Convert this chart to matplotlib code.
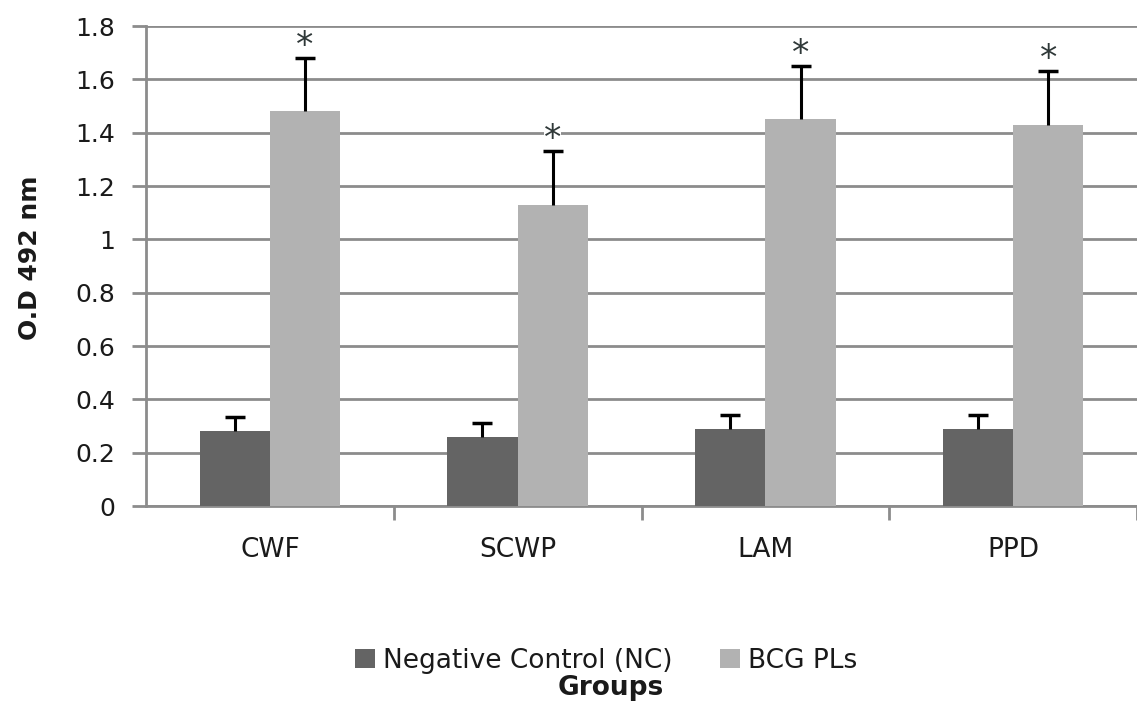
import numpy as np
import matplotlib.pyplot as plt

plt.rcParams['font.family'] = ['DejaVu Sans']
plt.rcParams['text.color'] = '#1a1a1a'
plt.rcParams['xtick.labelcolor'] = '#1a1a1a'
plt.rcParams['ytick.labelcolor'] = '#1a1a1a'

groups = ['CWF', 'SCWP', 'LAM', 'PPD']
nc_vals = [0.28, 0.26, 0.29, 0.29]
nc_err = [0.055, 0.05, 0.05, 0.05]
bcg_vals = [1.48, 1.13, 1.45, 1.43]
bcg_err = [0.20, 0.20, 0.20, 0.20]
yticks = [0, 0.2, 0.4, 0.6, 0.8, 1, 1.2, 1.4, 1.6, 1.8]
ytick_labels = ['0', '0.2', '0.4', '0.6', '0.8', '1', '1.2', '1.4', '1.6', '1.8']

fig = plt.figure(figsize=(11.37, 7.02), dpi=100)
ax = fig.add_axes([146 / 1137, 196 / 702, 991 / 1137, 480 / 702])

x = np.arange(len(groups))
w = 0.284
grid_col = '#8c8c8c'

ax.bar(x - w / 2, nc_vals, w, color='#646464', label='Negative Control (NC)', zorder=3)
ax.bar(x + w / 2, bcg_vals, w, color='#b2b2b2', label='BCG PLs', zorder=3)

# upper error bars only, cap at the top
for xs, vals, errs in [(x - w / 2, nc_vals, nc_err), (x + w / 2, bcg_vals, bcg_err)]:
    tops = np.array(vals) + np.array(errs)
    ax.vlines(xs, vals, tops, color='black', linewidth=2.2, zorder=4)
    ax.plot(xs, tops, linestyle='none', marker='_', markersize=15, mew=2.5,
            color='black', zorder=4)

# significance stars (white box breaks the gridline behind them)
for xi, v, e in zip(x, bcg_vals, bcg_err):
    ax.text(xi + w / 2, v + e + 0.008, '*', ha='center', va='baseline', fontsize=25,
            color='#2f3838', zorder=3.5,
            bbox=dict(facecolor='white', edgecolor='none', pad=0.0))

ax.set_ylim(0, 1.8)
ax.set_xlim(-0.5, 3.5 - 9 / 250)
ax.set_yticks(yticks)
ax.set_yticklabels(ytick_labels)
ax.yaxis.grid(True, color=grid_col, linewidth=2)
ax.set_axisbelow(True)

ax.set_xticks(x)
ax.set_xticklabels(groups)
ax.set_xticks(np.arange(len(groups)) + 0.5, minor=True)
ax.tick_params(axis='x', which='major', length=0, pad=22, labelsize=19)
ax.tick_params(axis='x', which='minor', length=10, width=2, color=grid_col)
ax.tick_params(axis='y', length=10, width=2, color=grid_col, labelsize=18, pad=12)

for side in ['top', 'right']:
    ax.spines[side].set_visible(False)
for side in ['left', 'bottom']:
    ax.spines[side].set_color(grid_col)
    ax.spines[side].set_linewidth(2)

fig.text(30 / 1137, 1 - 258 / 702, 'O.D 492 nm', rotation=90, ha='center', va='center',
         fontsize=18, fontweight='bold')
fig.text(611 / 1137, 1 - 688 / 702, 'Groups', ha='center', va='center',
         fontsize=19, fontweight='bold')

fig.legend(loc='center', bbox_to_anchor=(606 / 1137, 1 - 661 / 702), ncol=2,
           frameon=False, fontsize=19, handlelength=0.75, handleheight=0.75,
           handletextpad=0.3, columnspacing=1.8, borderpad=0)

fig.savefig('out.png', dpi=100)
